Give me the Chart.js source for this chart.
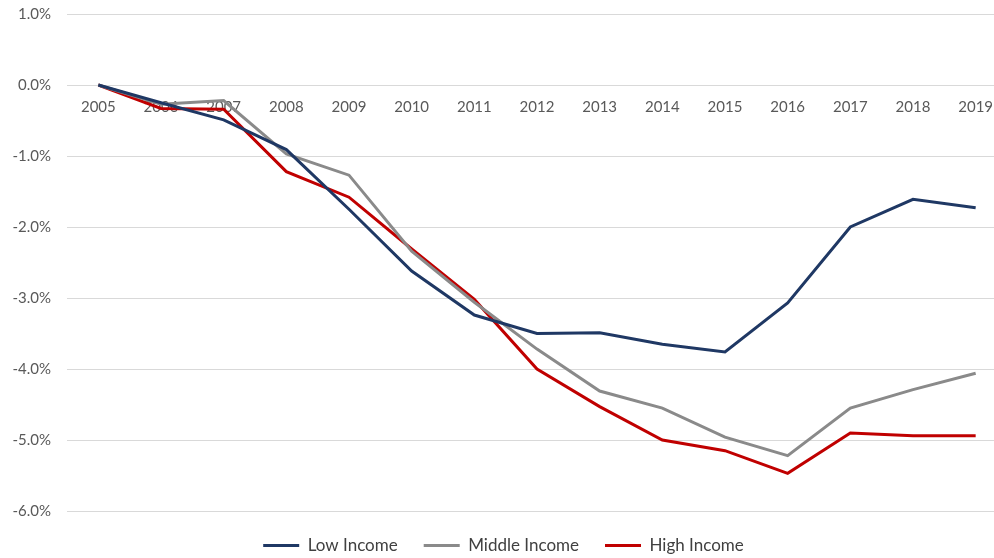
<!DOCTYPE html>
<html>
<head>
<meta charset="utf-8">
<script src="https://cdn.jsdelivr.net/npm/chart.js@4.4.1/dist/chart.umd.min.js"></script>
<style>
  html, body { margin: 0; padding: 0; background: #fff; overflow: hidden; }
  #wrap { width: 994px; height: 558px; overflow: hidden; }
  canvas { display: block; }
</style>
</head>
<body>
<div id="wrap"><canvas id="incomeChart" width="1007" height="558"></canvas></div>
<script>
const years = ['2005', '2006', '2007', '2008', '2009', '2010', '2011', '2012',
               '2013', '2014', '2015', '2016', '2017', '2018', '2019'];

// % change since 2005
const lowIncome = [0, -0.25, -0.49, -0.91, -1.75, -2.62, -3.24, -3.50, -3.49, -3.65, -3.76, -3.07, -2.00, -1.61, -1.73];
const middleIncome = [0, -0.27, -0.22, -0.97, -1.27, -2.34, -3.06, -3.72, -4.31, -4.55, -4.96, -5.22, -4.55, -4.29, -4.06];
const highIncome = [0, -0.33, -0.34, -1.22, -1.58, -2.31, -3.02, -4.00, -4.53, -5.00, -5.15, -5.47, -4.90, -4.94, -4.94];

const yTicks = [1, 0, -1, -2, -3, -4, -5, -6];

const font = { family: 'Lato, "Open Sans", sans-serif', size: 15 };
const legendFont = { family: 'Lato, "Open Sans", sans-serif', size: 17 };
const gridColor = '#d9d9d9';

function series(label, data, color) {
    return {
        label: label,
        data: data,
        borderColor: color,
        backgroundColor: color,
        borderWidth: 3,
        pointRadius: 0,
        tension: 0,
        fill: false
    };
}

const ctx = document.getElementById('incomeChart').getContext('2d');

new Chart(ctx, {
    type: 'line',
    data: {
        labels: years,
        datasets: [
            series('Low Income', lowIncome, '#1f3864'),
            series('Middle Income', middleIncome, '#8a8a8a'),
            series('High Income', highIncome, '#c00000')
        ]
    },
    options: {
        responsive: false,
        animation: false,
        layout: { padding: { left: 0, top: 14, right: 0, bottom: -6 } },
        plugins: {
            tooltip: { enabled: false },
            legend: {
                position: 'bottom',
                labels: {
                    color: '#404040',
                    font: legendFont,
                    boxWidth: 36,
                    boxHeight: 3,
                    padding: 26,
                    generateLabels: function (chart) {
                        const items = Chart.defaults.plugins.legend.labels.generateLabels(chart);
                        items.forEach(function (it) { it.lineWidth = 0; });
                        return items;
                    }
                }
            }
        },
        scales: {
            x: {
                position: { y: 0 },
                offset: true,
                afterFit: function (scale) { scale.height = 0; },
                grid: { display: false, drawTicks: false },
                border: { display: true, color: gridColor, width: 1 },
                ticks: { color: '#595959', font: font, padding: 13, maxRotation: 0, autoSkip: false }
            },
            y: {
                min: -6,
                max: 1,
                afterFit: function (scale) {
                    scale.width = 67;
                    scale.paddingTop = 0;
                    scale.paddingBottom = 0;
                },
                afterBuildTicks: function (scale) {
                    scale.ticks = yTicks.map(function (v) { return { value: v }; });
                },
                grid: { color: gridColor, lineWidth: 1, drawTicks: false },
                border: { display: false },
                ticks: {
                    color: '#595959',
                    font: font,
                    padding: 16,
                    callback: function (value) { return value.toFixed(1) + '%'; }
                }
            }
        }
    }
});
</script>
</body>
</html>
